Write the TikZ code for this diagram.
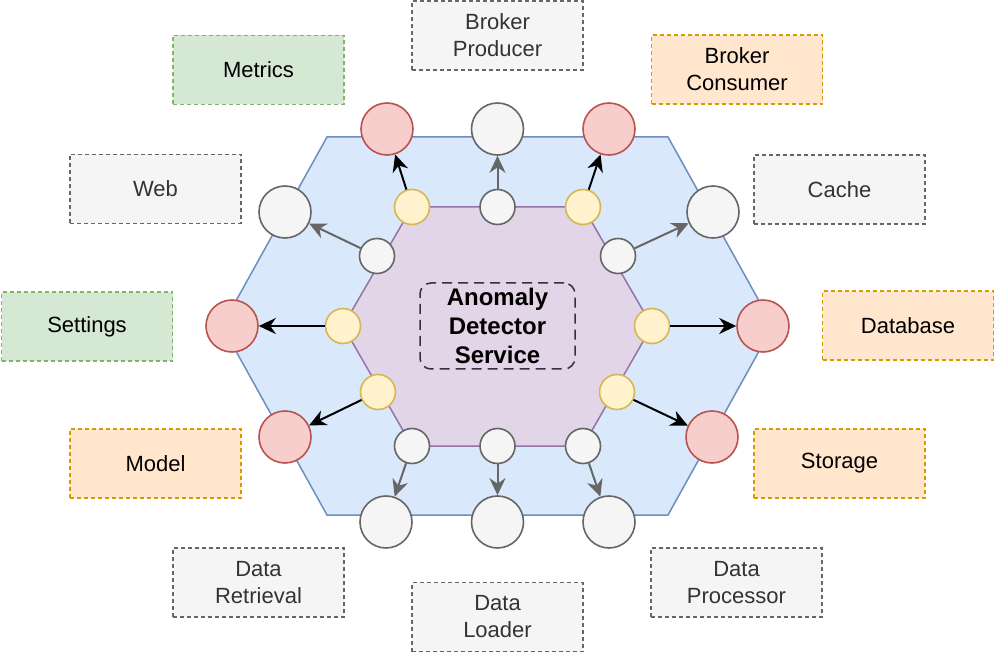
\documentclass[tikz,border=0pt]{standalone}
\usepackage{fontspec}
\setmainfont{Liberation Sans}
\usetikzlibrary{arrows.meta}
\definecolor{bluefill}{HTML}{DAE8FC}
\definecolor{bluestroke}{HTML}{6C8EBF}
\definecolor{purfill}{HTML}{E1D5E7}
\definecolor{purstroke}{HTML}{9673A6}
\definecolor{yelfill}{HTML}{FFF2CC}
\definecolor{yelstroke}{HTML}{D6B656}
\definecolor{redfill}{HTML}{F8CECC}
\definecolor{redstroke}{HTML}{B85450}
\definecolor{grayfill}{HTML}{F5F5F5}
\definecolor{graystroke}{HTML}{666666}
\definecolor{grayfont}{HTML}{333333}
\definecolor{grnfill}{HTML}{D5E8D4}
\definecolor{grnstroke}{HTML}{82B366}
\definecolor{orgfill}{HTML}{FFE6CC}
\definecolor{orgstroke}{HTML}{D79B00}
\begin{document}
\begin{tikzpicture}[x=1pt,y=-1pt,
  small/.style={circle,minimum size=35pt,inner sep=0pt,line width=1.6pt},
  big/.style={circle,minimum size=52pt,inner sep=0pt,line width=1.6pt},
  yel/.style={small,fill=yelfill,draw=yelstroke},
  gsm/.style={small,fill=grayfill,draw=graystroke},
  red/.style={big,fill=redfill,draw=redstroke},
  gbig/.style={big,fill=grayfill,draw=graystroke},
  ext/.style={rectangle,minimum width=171pt,minimum height=69pt,inner sep=0pt,
    line width=1.5pt,dash pattern=on 4pt off 3pt,align=center,
    font=\fontsize{22}{27}\selectfont},
  gbox/.style={ext,fill=grayfill,draw=graystroke,text=grayfont},
  grbox/.style={ext,fill=grnfill,draw=grnstroke,text=black},
  obox/.style={ext,fill=orgfill,draw=orgstroke,text=black},
  barr/.style={line width=2pt,black,-{Stealth[length=17pt,width=16pt,inset=5.5pt]}},
  garr/.style={line width=2pt,graystroke,-{Stealth[length=17pt,width=16pt,inset=5.5pt]}}
]
\useasboundingbox (0,0) rectangle (997,655);
% hexagons
\draw[fill=bluefill,draw=bluestroke,line width=1.5pt]
  (327,137) -- (668,137) -- (773,326) -- (668,515) -- (327,515) -- (222,326) -- cycle;
\draw[fill=purfill,draw=purstroke,line width=1.5pt]
  (412,207) -- (583,207) -- (652,326) -- (583,446) -- (412,446) -- (343,326) -- cycle;
% center
\node[draw=grayfont,line width=1.5pt,dash pattern=on 10pt off 6pt,rounded corners=11pt,
  minimum width=155pt,minimum height=86pt,align=center,
  font=\fontsize{24}{29}\selectfont\bfseries] (core) at (497.5,326) {Anomaly\\Detector\\Service};
% inner ports
\node[yel] (y1) at (412,207) {};
\node[yel] (y2) at (583,207) {};
\node[yel] (y3) at (343,326) {};
\node[yel] (y4) at (652,326) {};
\node[yel] (y5) at (378,392) {};
\node[yel] (y6) at (617,392) {};
\node[gsm] (g1) at (497.5,207) {};
\node[gsm] (g2) at (377,256) {};
\node[gsm] (g3) at (618,256) {};
\node[gsm] (g4) at (412,446) {};
\node[gsm] (g5) at (497.5,446) {};
\node[gsm] (g6) at (583,446) {};
% outer adapters
\node[red] (r1) at (387,129) {};
\node[gbig] (b1) at (497.5,129) {};
\node[red] (r2) at (609,129) {};
\node[gbig] (b2) at (285,212) {};
\node[gbig] (b3) at (713,212) {};
\node[red] (r3) at (232,326) {};
\node[red] (r4) at (763,326) {};
\node[red] (r5) at (285,437) {};
\node[red] (r6) at (712,437) {};
\node[gbig] (b4) at (386,522) {};
\node[gbig] (b5) at (497.5,522) {};
\node[gbig] (b6) at (609,522) {};
% arrows
\draw[barr] (y1) -- (r1);
\draw[garr] (g1) -- (b1);
\draw[barr] (y2) -- (r2);
\draw[garr] (g2) -- (b2);
\draw[garr] (g3) -- (b3);
\draw[barr] (y3) -- (r3);
\draw[barr] (y4) -- (r4);
\draw[barr] (y5) -- (r5);
\draw[barr] (y6) -- (r6);
\draw[garr] (g4) -- (b4);
\draw[garr] (g5) -- (b5);
\draw[garr] (g6) -- (b6);
% external boxes
\node[gbox] (bp) at (497.5,35.5) {Broker\\Producer};
\node[grbox] (met) at (258.5,70) {Metrics};
\node[obox] (bc) at (737,69.5) {Broker\\Consumer};
\node[gbox] (web) at (155.5,189) {Web};
\node[gbox] (cache) at (839.5,189.5) {Cache};
\node[grbox] (set) at (87,326.5) {Settings};
\node[obox] (db) at (908,325.5) {Database};
\node[obox] (model) at (155.5,463.5) {Model};
\node[obox] (stor) at (839.5,463.5) {Storage};
\node[gbox] (dr) at (258.5,582.5) {Data\\Retrieval};
\node[gbox] (dl) at (497.5,617) {Data\\Loader};
\node[gbox] (dp) at (736.5,582.5) {Data\\Processor};
\end{tikzpicture}
\end{document}
